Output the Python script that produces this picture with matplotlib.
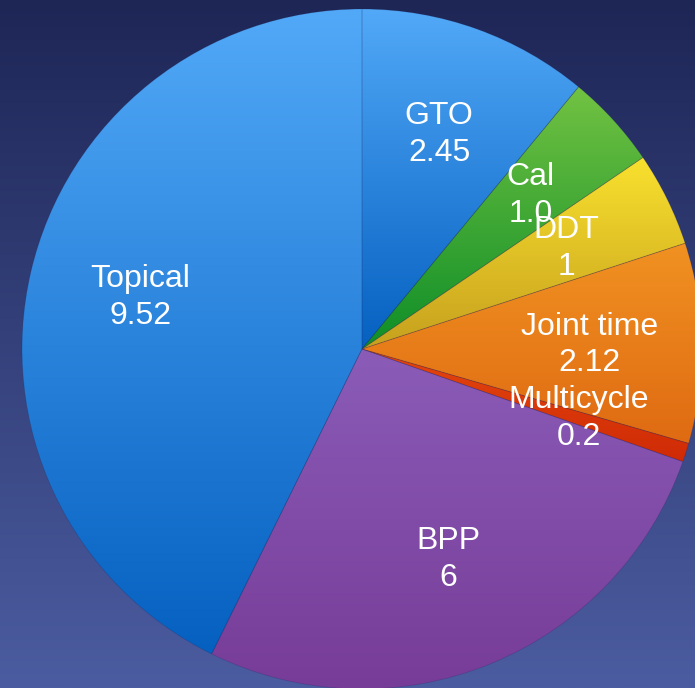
import numpy as np
import matplotlib
matplotlib.use("Agg")
from matplotlib import pyplot as plt
from matplotlib.colors import to_rgb

# slice data (clockwise from 12 o'clock)
names = ["GTO", "Cal", "DDT", "Joint time", "Multicycle", "BPP", "Topical"]
values = [2.45, 1.0, 1, 2.12, 0.2, 6, 9.52]
value_text = ["2.45", "1.0", "1", "2.12", "0.2", "6", "9.52"]

# gradient colours, top -> bottom of each slice
top_cols = ["#52a9f8", "#72c242", "#f9e12e", "#f19222", "#e4460e", "#8a5cb8", "#52a9f8"]
bot_cols = ["#0560c0", "#0e8e28", "#c6a01e", "#df6a12", "#cf2a06", "#773c97", "#0560c0"]

W, H = 695, 688
cx, cy, R = 362, H - 349, 340

def vgrad(c_top, c_bot, n=256):
    t = np.linspace(0, 1, n)[:, None]
    a = np.array(to_rgb(c_top))
    b = np.array(to_rgb(c_bot))
    return (a[None, :] * (1 - t) + b[None, :] * t)[:, None, :]

fig = plt.figure(figsize=(W / 100, H / 100), dpi=100)
ax = fig.add_axes([0, 0, 1, 1])

# background gradient
ax.imshow(vgrad("#1e2656", "#4b5ca0"), extent=(0, W, 0, H), aspect="auto", zorder=0)

labels = [f"{n}\n{v}" for n, v in zip(names, value_text)]
wedges, texts = ax.pie(values, labels=labels, startangle=90, counterclock=False,
                       center=(cx, cy), radius=R, labeldistance=0.67,
                       wedgeprops=dict(linewidth=0.6, edgecolor=(0.1, 0.1, 0.3, 0.18)),
                       textprops=dict(color="white", fontsize=23, family="Liberation Sans",
                                      ha="center", va="center", linespacing=1.3))

for i, w in enumerate(wedges):
    w.set_facecolor("none")
    w.set_zorder(3)
    ext = w.get_path().get_extents()
    x0, y0, x1, y1 = ext.x0, ext.y0, ext.x1, ext.y1
    im = ax.imshow(vgrad(top_cols[i], bot_cols[i]), extent=(x0, x1, y0, y1),
                   aspect="auto", zorder=2, interpolation="bilinear")
    im.set_clip_path(w)

for t in texts:
    t.set_zorder(5)

ax.set_xlim(0, W)
ax.set_ylim(0, H)
ax.set_aspect("auto")
ax.axis("off")

fig.savefig("out.png", dpi=100)
